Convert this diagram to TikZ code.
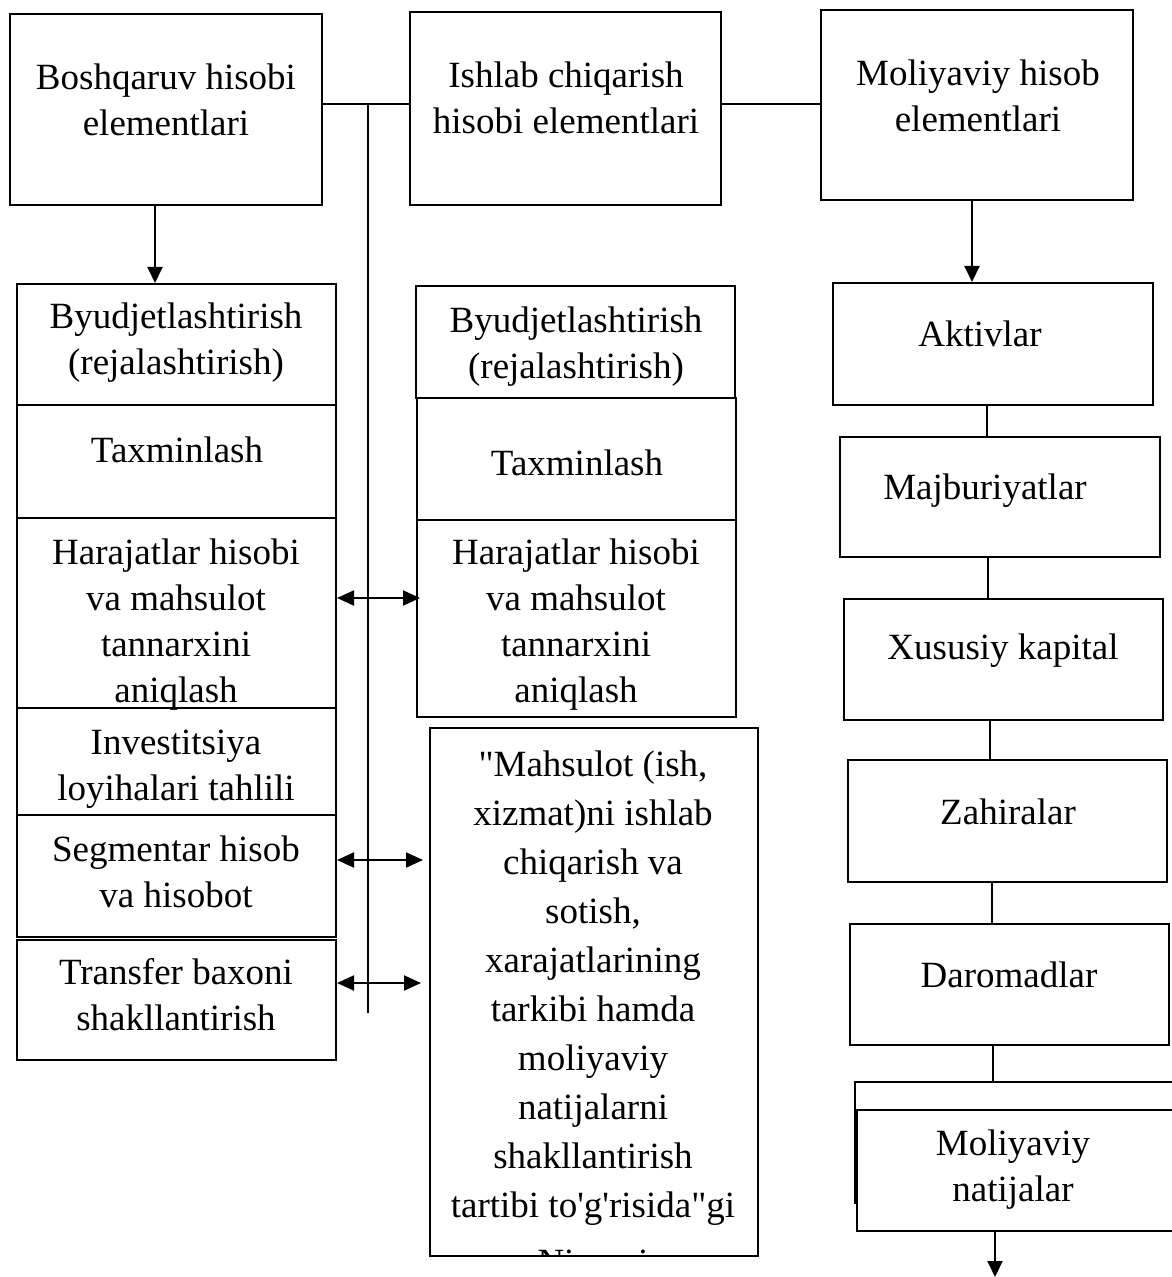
\documentclass[tikz,border=0pt]{standalone}
\usepackage{fontspec}
\setmainfont{Liberation Serif}
\newfontfamily\rmplain{Liberation Serif}
\usetikzlibrary{arrows.meta,fit}
\begin{document}
\begin{tikzpicture}[x=0.5pt,y=-0.5pt,
  box/.style={draw,line width=1pt,inner sep=0pt,fill=white},
  txt/.style={align=center,inner sep=0pt,font=\rmplain\fontsize{18.5}{23}\selectfont},
  thinline/.style={line width=0.6pt},
  conn/.style={line width=1pt},
  arr/.style={line width=1pt,-{Triangle[length=8pt,width=7.5pt]}},
  darr/.style={line width=1pt,{Triangle[length=8.5pt,width=7.5pt]}-{Triangle[length=8.5pt,width=7.5pt]}}]
\useasboundingbox[fill=white] (0,0) rectangle (1171,1277);

% top boxes
\node[box,fit={(10,14) (322,205)}] (A) {};
\node[box,fit={(410,12) (721,205)}] (B) {};
\node[box,fit={(821,10) (1133,200)}] (C) {};
\node[txt] (At) at (166,100) {Boshqaruv hisobi\\elementlari};
\node[txt] (Bt) at (566,98) {Ishlab chiqarish\\hisobi elementlari};
\node[txt] (Ct) at (978,96) {Moliyaviy hisob\\elementlari};

% left column
\node[box,fit={(17,284) (336,405)}] (LB) {};
\node[box,fit={(17,405) (336,518)}] (LTx) {};
\node[box,fit={(17,518) (336,708)}] (LH) {};
\node[box,fit={(17,708) (336,815)}] (LI) {};
\node[box,fit={(17,815) (336,937)}] (LS) {};
\node[box,fit={(17,940) (336,1060)}] (LT) {};
\node[txt] (LBt) at (176,343) {Byudjetlashtirish\\(rejalashtirish)};
\node[txt] (LTxt) at (177,450) {Taxminlash};
\node[txt] (LHt) at (176,625) {Harajatlar hisobi\\va mahsulot\\tannarxini\\aniqlash};
\node[txt] (LIt) at (176,769) {Investitsiya\\loyihalari tahlili};
\node[txt] (LSt) at (176,872) {Segmentar hisob\\va hisobot};
\node[txt] (LTt) at (176,995) {Transfer baxoni\\shakllantirish};

% middle column
\node[box,fit={(416,286) (735,398)}] (MB) {};
\node[box,fit={(417,398) (736,520)}] (MTx) {};
\node[box,fit={(417,520) (736,717)}] (MH) {};
\node[txt] (MBt) at (576,347) {Byudjetlashtirish\\(rejalashtirish)};
\node[txt] (MTxt) at (577,463) {Taxminlash};
\node[txt] (MHt) at (576,625) {Harajatlar hisobi\\va mahsulot\\tannarxini\\aniqlash};

\node[box,fit={(430,728) (758,1256)}] (MBig) {};
\begin{scope}
\clip (431,729) rectangle (757,1255);
\node[txt,font=\rmplain\fontsize{18.5}{24.5}\selectfont,anchor=north] (MBigt) at (593,750)
  {"Mahsulot (ish,\\xizmat)ni ishlab\\chiqarish va\\sotish,\\xarajatlarining\\tarkibi hamda\\moliyaviy\\natijalarni\\shakllantirish\\tartibi to'g'risida"gi\\[4pt]Nizomi};
\end{scope}
\node[box,fill=none,fit={(430,728) (758,1256)}] (MBigF) {};

% right column
\node[box,fit={(833,283) (1153,405)}] (Akt) {};
\node[box,fit={(840,437) (1160,557)}] (Maj) {};
\node[box,fit={(844,599) (1163,720)}] (Xus) {};
\node[box,fit={(848,760) (1167,882)}] (Zah) {};
\node[box,fit={(850,924) (1169,1045)}] (Dar) {};
\node[box,fit={(855,1082) (1180,1203)}] (MolO) {};
\node[box,fit={(857,1110) (1180,1231)}] (Mol) {};
\node[txt] (Aktt) at (980,334) {Aktivlar};
\node[txt] (Majt) at (985,491) {Majburiyatlar};
\node[txt] (Xust) at (1003,651) {Xususiy kapital};
\node[txt] (Zaht) at (1008,812) {Zahiralar};
\node[txt] (Dart) at (1009,975) {Daromadlar};
\node[txt] (Molt) at (1013,1170) {Moliyaviy\\natijalar};

% top connectors
\coordinate (j1) at (368,104);
\coordinate (j2) at (368,1013);
\draw[thinline] (A.east |- j1) -- (B.west |- j1);
\draw[thinline] (j1) -- (j2);
\draw[thinline] (B.east |- j1) -- (C.west |- j1);

% down arrows
\draw[arr] ([xshift=-5.5pt]A.south) -- ([xshift=-5.5pt]A.south |- LB.north);
\draw[arr] ([xshift=-2.5pt]C.south) -- ([xshift=-2.5pt]C.south |- Akt.north);

% right column connectors
\draw[conn] (987,405) coordinate (r1) -- (r1 |- Maj.north);
\draw[conn] (988,557) coordinate (r2) -- (r2 |- Xus.north);
\draw[conn] (990,720) coordinate (r3) -- (r3 |- Zah.north);
\draw[conn] (992,882) coordinate (r4) -- (r4 |- Dar.north);
\draw[conn] (993,1045) coordinate (r5) -- (r5 |- MolO.north);
\coordinate (bend) at (995,1277);
\draw[arr] (bend |- Mol.south) -- (bend);

% double arrows
\draw[darr] ([yshift=7.5pt]LH.east) -- ([yshift=7.5pt]LH.east -| 420,0);
\draw[darr] ([yshift=8pt]LS.east) -- ([yshift=8pt]LS.east -| 423,0);
\draw[darr] ([yshift=8.5pt]LT.east) -- ([yshift=8.5pt]LT.east -| 421,0);
\end{tikzpicture}
\end{document}
